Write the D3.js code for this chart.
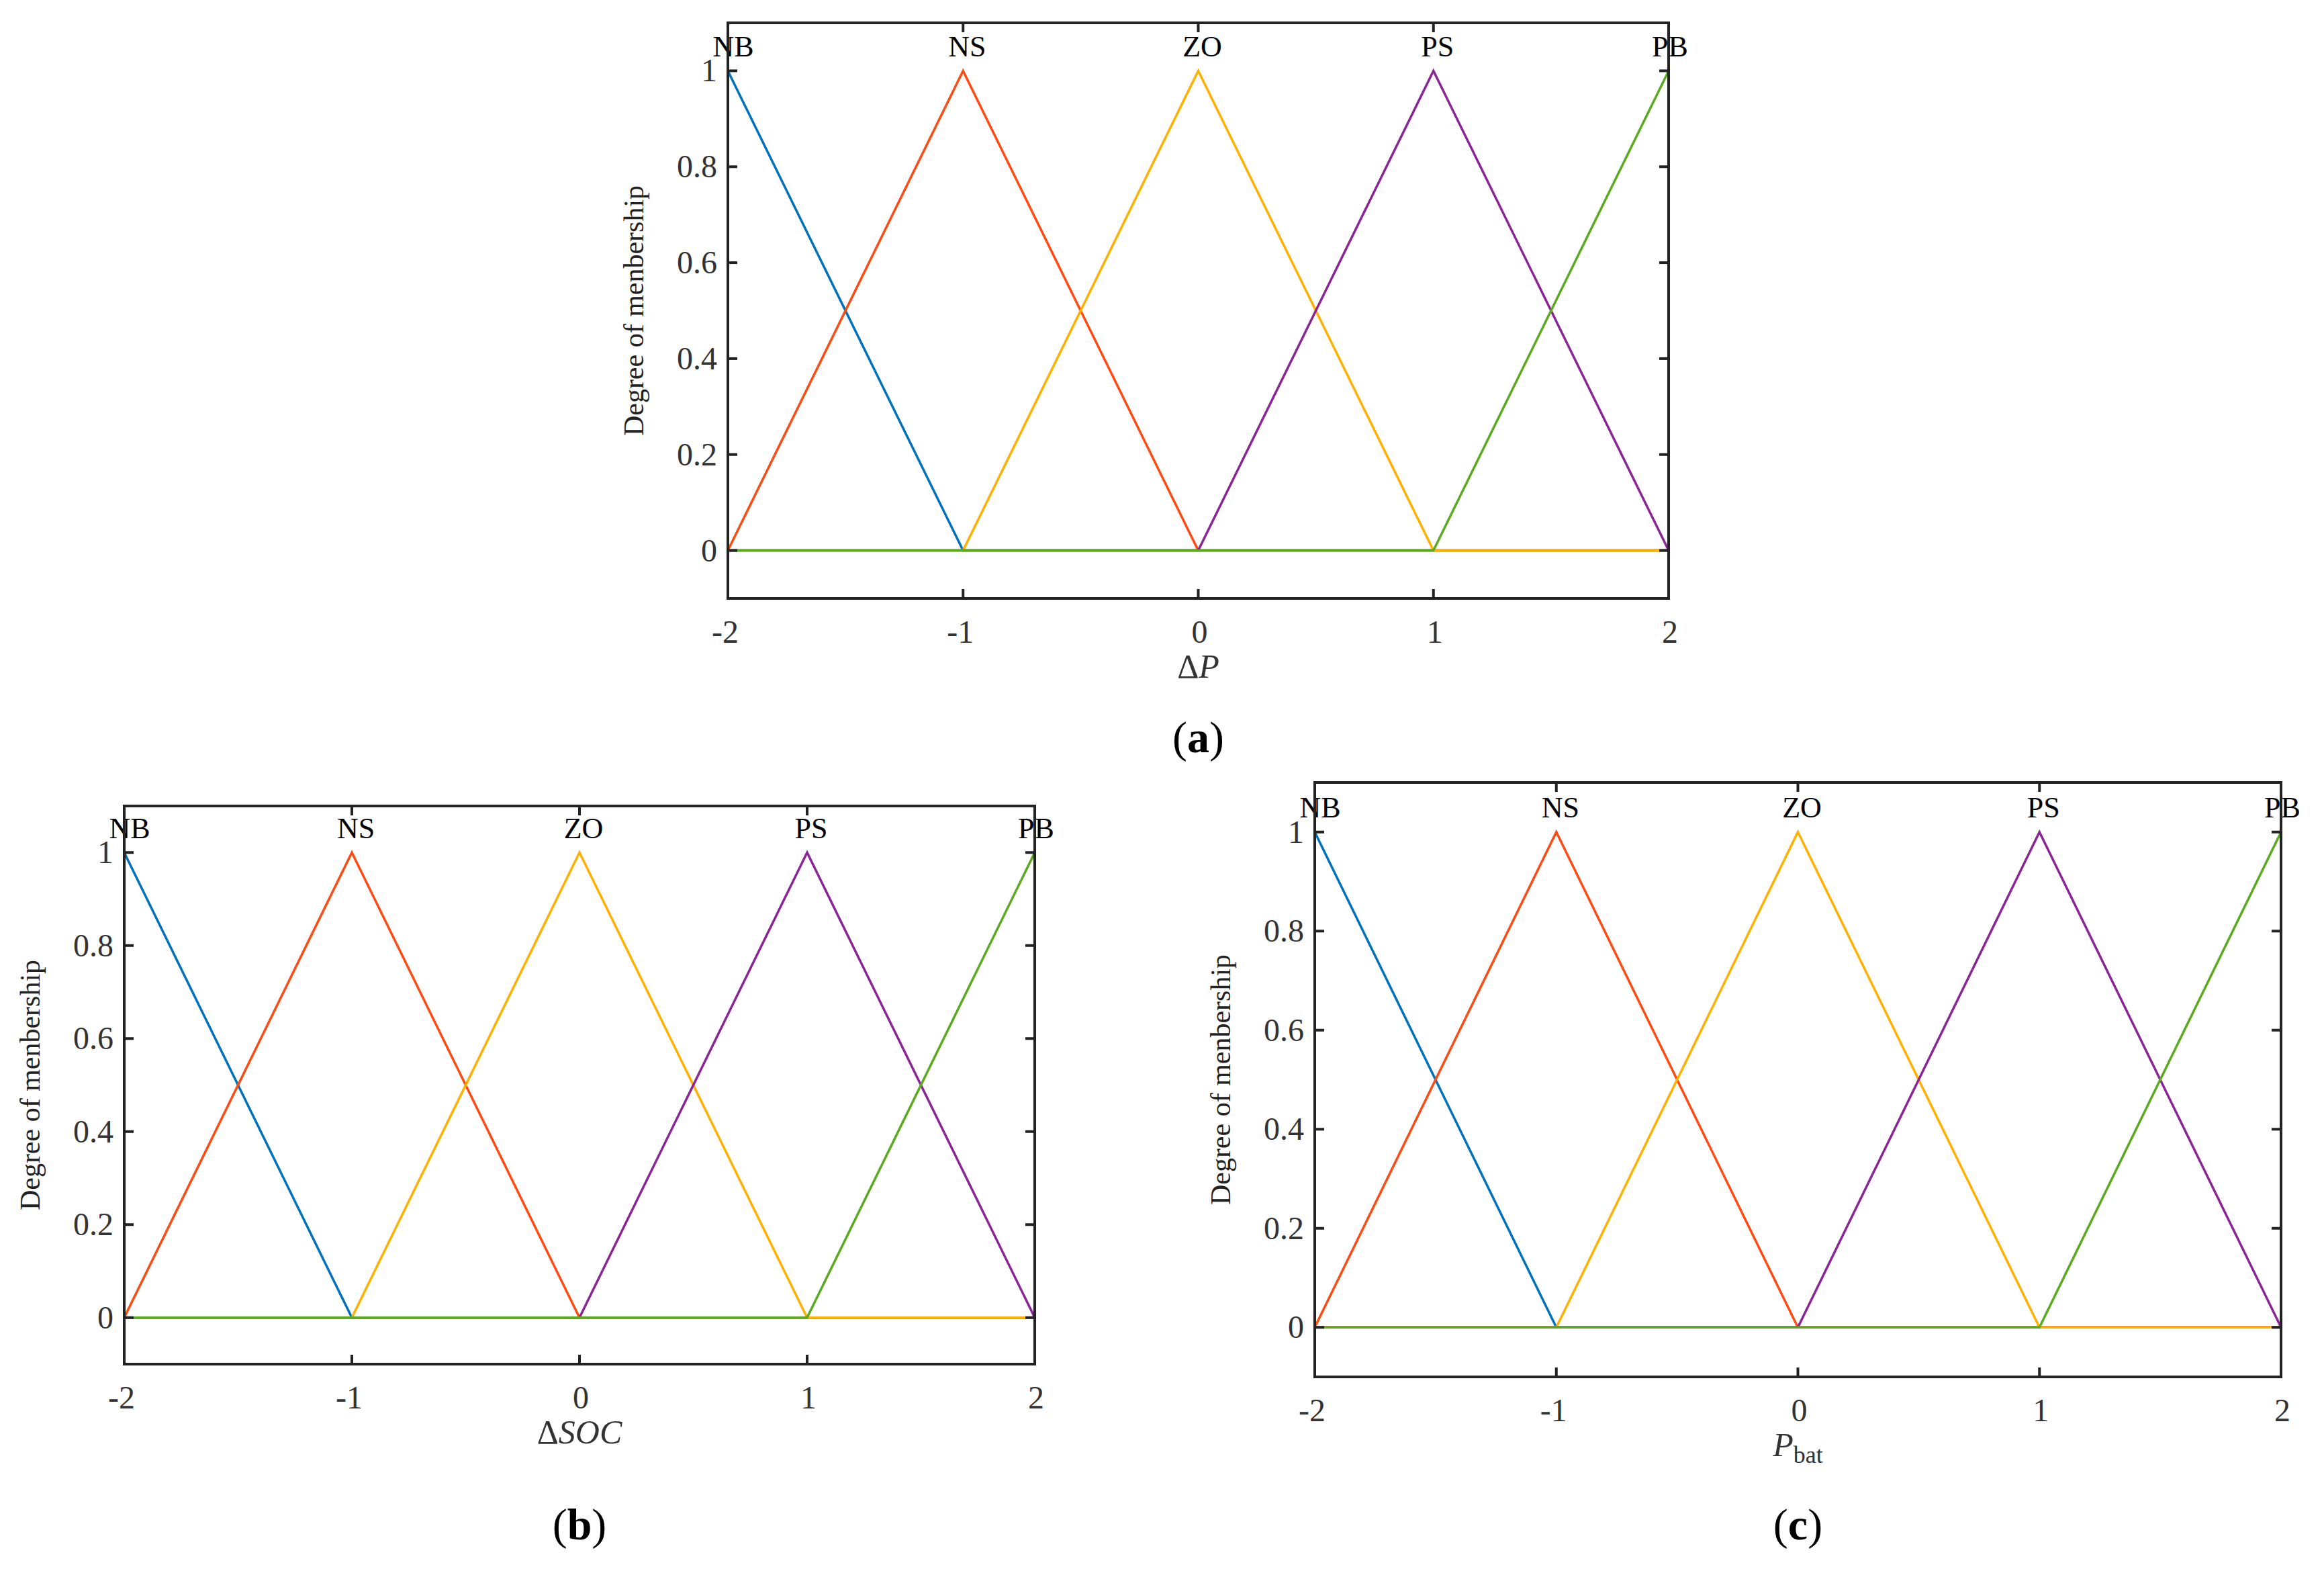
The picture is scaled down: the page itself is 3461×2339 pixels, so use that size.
<!DOCTYPE html>
<html><head><meta charset="utf-8">
<script src="https://cdn.jsdelivr.net/npm/d3@7"></script>
<style>body{margin:0;background:#fff}</style></head>
<body><svg id="c" width="3461" height="2339"></svg>
<script>
const mfNames = ["NB","NS","ZO","PS","PB"];
const mfColors = ["#0072BD","#FF4A12","#FFB000","#8B2597","#5BAA1E"];
// triangle breakpoints [a, b(peak), c]
const mfParams = [[-3,-2,-1],[-2,-1,0],[-1,0,1],[0,1,2],[1,2,3]];
const xTicks = [-2,-1,0,1,2];
const yTicks = [0,0.2,0.4,0.6,0.8,1];
const panels = [
  {cap:"a", xlab:"ΔP", box:[1084,34,2485,891]},
  {cap:"b", xlab:"ΔSOC", box:[185,1200,1541,2031]},
  {cap:"c", xlab:"P_bat", box:[1958,1165,3397,2050]}
];
const svg = d3.select("#c");
const font = "'Liberation Serif','Times New Roman',serif";
panels.forEach(p=>{
  const [l,t,r,b]=p.box;
  const x=d3.scaleLinear().domain([-2,2]).range([l,r]);
  const y=d3.scaleLinear().domain([-0.1,1.1]).range([b,t]);
  const g=svg.append("g");
  const clip="clip"+p.cap;
  g.append("clipPath").attr("id",clip).append("rect").attr("x",l).attr("y",t).attr("width",r-l).attr("height",b-t);
  const line=d3.line().x(d=>x(d[0])).y(d=>y(d[1]));
  mfParams.forEach((m,i)=>{
    const pts=[[-2,0],[m[0],0],[m[1],1],[m[2],0],[2,0]].filter(d=>d[0]>=-2&&d[0]<=2);
    pts.sort((a,b)=>a[0]-b[0]);
    g.append("path").attr("d",line(pts)).attr("fill","none").attr("stroke",mfColors[i])
      .attr("stroke-width",3.5).attr("clip-path",`url(#${clip})`);
    g.append("text").attr("x",x(m[1])+ (i==0?8:i==4?2:6)).attr("y",y(1.03)).attr("text-anchor","middle")
      .attr("font-family",font).attr("font-size",44).attr("fill","#000").text(mfNames[i]);
  });
  g.append("rect").attr("x",l).attr("y",t).attr("width",r-l).attr("height",b-t)
    .attr("fill","none").attr("stroke","#222").attr("stroke-width",4);
  const ax=g.append("g").attr("font-family",font).attr("font-size",48).attr("fill","#333");
  xTicks.forEach(v=>{
    ax.append("line").attr("x1",x(v)).attr("x2",x(v)).attr("y1",b).attr("y2",b-14).attr("stroke","#222").attr("stroke-width",4);
    ax.append("line").attr("x1",x(v)).attr("x2",x(v)).attr("y1",t).attr("y2",t+14).attr("stroke","#222").attr("stroke-width",4);
    ax.append("text").attr("x",x(v)+(v<0?-4:2)).attr("y",b+66).attr("text-anchor","middle").text(v);
  });
  yTicks.forEach(v=>{
    ax.append("line").attr("x1",l).attr("x2",l+14).attr("y1",y(v)).attr("y2",y(v)).attr("stroke","#222").attr("stroke-width",4);
    ax.append("line").attr("x1",r).attr("x2",r-14).attr("y1",y(v)).attr("y2",y(v)).attr("stroke","#222").attr("stroke-width",4);
    ax.append("text").attr("x",l-16).attr("y",y(v)+16).attr("text-anchor","end").text(v);
  });
  g.append("text").attr("transform",`translate(${l-126},${(t+b)/2}) rotate(-90)`).attr("text-anchor","middle")
    .attr("font-family",font).attr("font-size",42).attr("fill","#222").text("Degree of menbership");
  const xl=g.append("text").attr("x",(l+r)/2).attr("y",b+118).attr("text-anchor","middle")
    .attr("font-family",font).attr("font-size",50).attr("fill","#333");
  if(p.xlab==="P_bat"){
    xl.append("tspan").attr("font-style","italic").text("P");
    xl.append("tspan").attr("font-size",36).attr("dy",10).text("bat");
  } else {
    xl.append("tspan").text("Δ");
    xl.append("tspan").attr("font-style","italic").text(p.xlab.slice(1));
  }
  const cy = p.cap==="a"?1120:2292;
  const cap=svg.append("text").attr("x",(l+r)/2).attr("y",cy).attr("text-anchor","middle")
    .attr("font-family",font).attr("font-size",66).attr("fill","#000");
  cap.append("tspan").text("(");
  cap.append("tspan").attr("font-weight","bold").text(p.cap);
  cap.append("tspan").text(")");
});
</script></body></html>
